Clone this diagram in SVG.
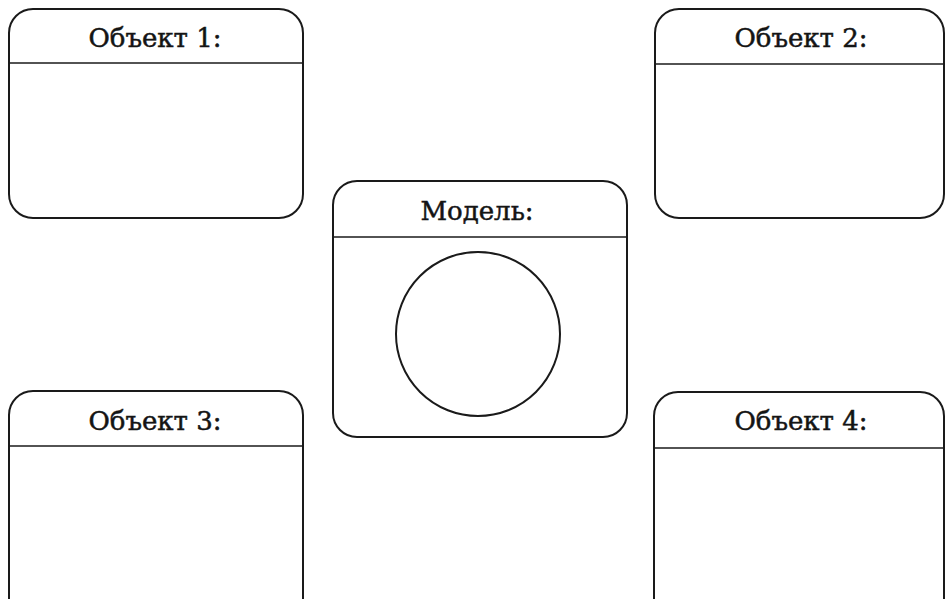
<svg xmlns="http://www.w3.org/2000/svg" width="945" height="599" viewBox="0 0 945 599">
<style>
.box{fill:#fff;stroke:#1a1a1a;stroke-width:2}
.sep{stroke:#1a1a1a;stroke-width:1.6}
.lbl{font-family:"DejaVu Serif","Liberation Serif",serif;font-size:26px;fill:#141414;stroke:#141414;stroke-width:0.5;text-anchor:middle}
</style>
<rect width="945" height="599" fill="#fff"/>
<g id="obj1">
<rect class="box" x="9" y="9" width="294" height="209" rx="24"/>
<line class="sep" x1="9" y1="63" x2="303" y2="63"/>
<text class="lbl" x="155" y="47">Объект  1:</text>
</g>
<g id="obj2">
<rect class="box" x="655" y="9" width="289" height="209" rx="24"/>
<line class="sep" x1="655" y1="64" x2="944" y2="64"/>
<text class="lbl" x="801" y="47">Объект  2:</text>
</g>
<g id="model">
<rect class="box" x="333" y="181" width="294" height="256" rx="24"/>
<line class="sep" x1="333" y1="237" x2="627" y2="237"/>
<text class="lbl" x="477" y="220">Модель:</text>
<circle class="box" cx="478" cy="334" r="82"/>
</g>
<g id="obj3">
<rect class="box" x="9" y="391" width="294" height="240" rx="24"/>
<line class="sep" x1="9" y1="446" x2="303" y2="446"/>
<text class="lbl" x="155" y="430">Объект  3:</text>
</g>
<g id="obj4">
<rect class="box" x="654" y="392" width="290" height="240" rx="24"/>
<line class="sep" x1="654" y1="448" x2="944" y2="448"/>
<text class="lbl" x="801" y="430">Объект  4:</text>
</g>
<g id="connectors"></g>
</svg>
